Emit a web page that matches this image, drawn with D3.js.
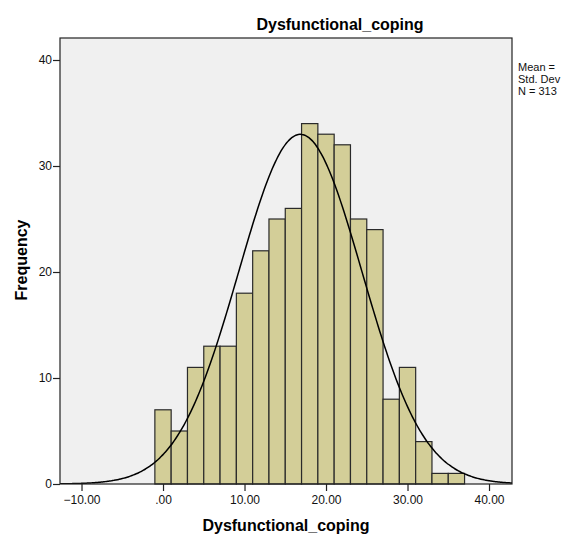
<!DOCTYPE html>
<html>
<head>
<meta charset="utf-8">
<script src="https://cdn.jsdelivr.net/npm/d3@7"></script>
<style>
  body { margin: 0; background: #fff; }
  svg text { font-family: "Liberation Sans", Arial, sans-serif; }
</style>
</head>
<body>
<div id="chart"></div>
<script>
// bin centres (bin width 2) and counts
var binCenters = [0, 2, 4, 6, 8, 10, 12, 14, 16, 18, 20, 22, 24, 26, 28, 30, 32, 34, 36];
var counts = [7, 5, 11, 13, 13, 18, 22, 25, 26, 34, 33, 32, 25, 24, 8, 11, 4, 1, 1];
var binWidth = 2;
var xTicks = [-10, 0, 10, 20, 30, 40];
var yTicks = [0, 10, 20, 30, 40];
var legendLines = ["Mean =", "Std. Dev", "N = 313"];
var mean = 16.85, sd = 7.57, n = 313;

var W = 563, H = 535;
var plot = { left: 60, right: 512, top: 38, bottom: 484 };

var svg = d3.select("#chart").append("svg")
    .attr("width", W)
    .attr("height", H);

var x = d3.scaleLinear()
    .domain([-12.64, 42.82])
    .range([plot.left, plot.right]);

var y = d3.scaleLinear()
    .domain([0, 40])
    .range([plot.bottom, 60]);

svg.append("defs").append("clipPath")
    .attr("id", "clip")
    .append("rect")
    .attr("x", plot.left).attr("y", plot.top)
    .attr("width", plot.right - plot.left)
    .attr("height", plot.bottom - plot.top);

// plot background
svg.append("rect")
    .attr("x", plot.left).attr("y", plot.top)
    .attr("width", plot.right - plot.left)
    .attr("height", plot.bottom - plot.top)
    .attr("fill", "#f0f0f0");

// bars
svg.append("g").selectAll("rect")
    .data(binCenters)
    .enter()
    .append("rect")
    .attr("x", function(d){ return x(d - binWidth / 2) })
    .attr("width", function(d){ return x(d + binWidth / 2) - x(d - binWidth / 2) })
    .attr("y", function(d, i){ return y(counts[i]) })
    .attr("height", function(d, i){ return y(0) - y(counts[i]) })
    .attr("fill", "#d3ce98")
    .attr("stroke", "#2a2a2a")
    .attr("stroke-width", 1.2);

// normal curve scaled to counts
var curvePts = d3.range(-13, 43.2, 0.2).map(function(v){
    var dens = Math.exp(-0.5 * Math.pow((v - mean) / sd, 2)) / (sd * Math.sqrt(2 * Math.PI));
    return [v, dens * n * binWidth];
});

var line = d3.line()
    .x(function(d){ return x(d[0]) })
    .y(function(d){ return y(d[1]) })
    .curve(d3.curveBasis);

svg.append("path")
    .datum(curvePts)
    .attr("clip-path", "url(#clip)")
    .attr("d", line)
    .attr("fill", "none")
    .attr("stroke", "#000")
    .attr("stroke-width", 1.5);

// frame
svg.append("rect")
    .attr("x", plot.left).attr("y", plot.top)
    .attr("width", plot.right - plot.left)
    .attr("height", plot.bottom - plot.top)
    .attr("fill", "none")
    .attr("stroke", "#222")
    .attr("stroke-width", 1.2);

// axes
var xAxis = d3.axisBottom(x)
    .tickValues(xTicks)
    .tickSize(7)
    .tickSizeOuter(0)
    .tickFormat(function(d){ return d === 0 ? ".00" : d3.format(".2f")(d) });

var yAxis = d3.axisLeft(y)
    .tickValues(yTicks)
    .tickSize(7)
    .tickSizeOuter(0)
    .tickFormat(d3.format("d"));

var gx = svg.append("g")
    .attr("transform", "translate(0," + plot.bottom + ")")
    .call(xAxis);
gx.select(".domain").remove();
gx.selectAll("line").attr("stroke", "#222").attr("stroke-width", 1.2);
gx.selectAll("text")
    .attr("y", 11)
    .attr("fill", "#111")
    .style("font-size", "12px");

var gy = svg.append("g")
    .attr("transform", "translate(" + plot.left + ",0)")
    .call(yAxis);
gy.select(".domain").remove();
gy.selectAll("line").attr("stroke", "#222").attr("stroke-width", 1.2);
gy.selectAll("text")
    .attr("x", -8)
    .attr("fill", "#111")
    .style("font-size", "12px");

// titles
svg.append("text")
    .attr("x", 340)
    .attr("y", 30)
    .attr("text-anchor", "middle")
    .style("font-size", "16px")
    .style("font-weight", "bold")
    .text("Dysfunctional_coping");

svg.append("text")
    .attr("x", 286)
    .attr("y", 531)
    .attr("text-anchor", "middle")
    .style("font-size", "16px")
    .style("font-weight", "bold")
    .text("Dysfunctional_coping");

svg.append("text")
    .attr("transform", "rotate(-90)")
    .attr("x", -260)
    .attr("y", 27)
    .attr("text-anchor", "middle")
    .style("font-size", "16px")
    .style("font-weight", "bold")
    .text("Frequency");

// legend (clipped by the window edge)
svg.append("g").selectAll("text")
    .data(legendLines)
    .enter()
    .append("text")
    .attr("x", 518)
    .attr("y", function(d, i){ return 71 + i * 12 })
    .style("font-size", "11px")
    .attr("fill", "#111")
    .text(function(d){ return d });
</script>
</body>
</html>
